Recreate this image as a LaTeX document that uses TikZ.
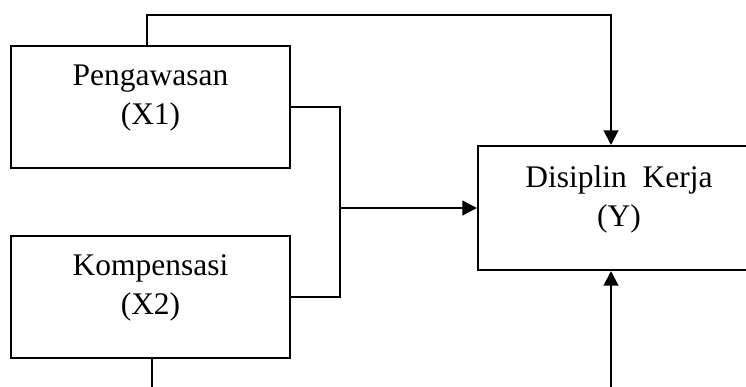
\documentclass[tikz,border=0pt]{standalone}
\usepackage{fontspec}
\setmainfont{Liberation Serif}
\usetikzlibrary{arrows.meta}
\tikzset{
  box/.style={draw, line width=1.5pt, rectangle, inner sep=0pt},
  txt/.style={align=center, inner sep=0pt, font=\fontsize{23.6}{29.3}\selectfont},
  conn/.style={line width=1.5pt},
  arr/.style={line width=1.5pt, -{Triangle[length=11pt,width=11pt]}}
}
\begin{document}
\begin{tikzpicture}[x=0.75pt,y=-0.75pt]
\useasboundingbox (0,0) rectangle (746,386);
\clip (0,0) rectangle (746,386);
\fill[white] (0,0) rectangle (746,386);
% boxes
\node[box, minimum width=279*0.75pt, minimum height=122*0.75pt] (x1) at (150.5,107) {};
\node[box, minimum width=279*0.75pt, minimum height=122*0.75pt] (x2) at (150.5,297) {};
\node[box, minimum width=282*0.75pt, minimum height=124*0.75pt] (y) at (619,208) {};
% texts
\node[txt] (x1t) at ([yshift=6.5pt]x1.center) {Pengawasan\\(X1)};
\node[txt] (x2t) at ([yshift=6.5pt]x2.center) {Kompensasi\\(X2)};
\node[txt] (yt) at ([yshift=6.5pt]y.center) {Disiplin\ \ Kerja\\(Y)};
% coordinates
\coordinate (t1) at (147,15);
\coordinate (t2) at (611,15);
\coordinate (j) at (340,208);
\coordinate (b1) at (152,400);
\coordinate (b2) at (611,400);
% connectors
\draw[arr] (x1.north -| t1) -- (t1) -- (t2) -- (y.north -| t2);
\draw[conn] (x1.east) -- (x1.east -| j) -- (x2.east -| j) -- (x2.east);
\draw[arr] (j) -- (y.west);
\draw[conn] (x2.south -| b1) -- (b1) -- (b2);
\draw[arr] (b2) -- (y.south -| b2);
\end{tikzpicture}
\end{document}
